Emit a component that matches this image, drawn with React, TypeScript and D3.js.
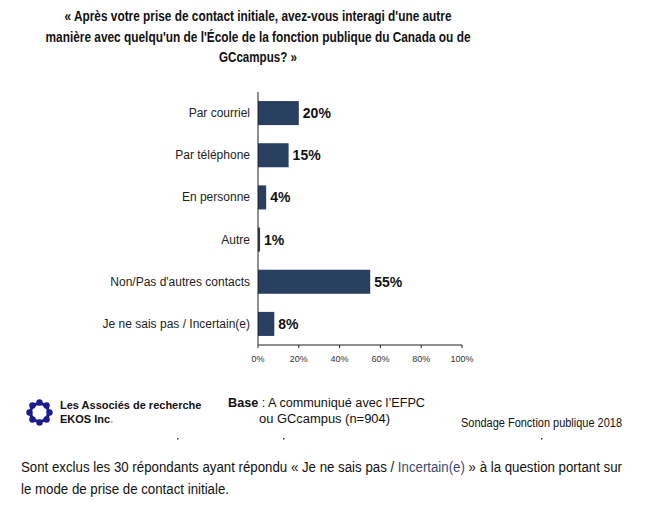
import React from 'react';
import * as d3 from 'd3';

const categories = [
  'Par courriel',
  'Par téléphone',
  'En personne',
  'Autre',
  "Non/Pas d'autres contacts",
  'Je ne sais pas / Incertain(e)',
];
const values = [20, 15, 4, 1, 55, 8];
const tickValues = [0, 20, 40, 60, 80, 100];

const titleLines = [
  "« Après votre prise de contact initiale, avez-vous interagi d'une autre",
  "manière avec quelqu'un de l'École de la fonction publique du Canada ou de",
  'GCcampus? »',
];
// measured widths of the condensed title lines in the reference
const titleWidths = [387, 425, 78];

const BAR = '#283f5f';
const SANS = '"Liberation Sans", Arial, sans-serif';

export default function App() {
  const x = d3.scaleLinear().domain([0, 100]).range([258, 462]);
  const y = d3.scaleBand<string>().domain(categories).range([92, 345]).paddingInner(0.43).paddingOuter(0.215);

  // logo petals around a ring
  const petals = d3.range(8).map(i => (i / 8) * Math.PI * 2);

  return (
    <svg width={650} height={523} style={{ position: 'absolute', left: 0, top: 0, background: '#fff' }}>
      <g fontFamily={SANS} fontWeight="bold" fontSize={15} fill="#111" textAnchor="middle">
        {titleLines.map((t, i) => (
          <text key={i} x={258} y={21 + i * 20.5} textLength={titleWidths[i]} lengthAdjust="spacingAndGlyphs">{t}</text>
        ))}
      </g>

      {/* category labels */}
      <g fontFamily={SANS} fontSize={12} fill="#222" textAnchor="end">
        {categories.map(c => (
          <text key={c} x={250} y={(y(c) ?? 0) + y.bandwidth() / 2 + 4}>{c}</text>
        ))}
      </g>

      {/* bars */}
      {categories.map((c, i) => (
        <rect key={c} x={x(0)} y={y(c)} width={x(values[i]) - x(0)} height={y.bandwidth()} fill={BAR} />
      ))}

      {/* value labels */}
      <g fontFamily={SANS} fontWeight="bold" fontSize={14} fill="#111">
        {categories.map((c, i) => (
          <text key={c} x={x(values[i]) + 4} y={(y(c) ?? 0) + y.bandwidth() / 2 + 5}>{values[i]}%</text>
        ))}
      </g>

      {/* axes */}
      <line x1={x(0)} x2={x(0)} y1={92} y2={345} stroke="#222" strokeWidth={1} />
      <line x1={x(0)} x2={x(100)} y1={345} y2={345} stroke="#222" strokeWidth={1} />
      {tickValues.map(t => (
        <g key={t}>
          <line x1={x(t)} x2={x(t)} y1={345} y2={348} stroke="#222" />
          <text x={x(t)} y={362} textAnchor="middle" fontFamily={SANS} fontSize={9} fill="#333">{t}%</text>
        </g>
      ))}

      {/* logo */}
      <g transform="translate(39.5,412.5)" fill="#1c1c8e">
        <circle r={9} fill="none" stroke="#1c1c8e" strokeWidth={3} />
        {petals.map((a, i) => (
          <circle key={i} cx={Math.cos(a) * 10} cy={Math.sin(a) * 10} r={3.2} />
        ))}
      </g>
      <text x={60} y={409} fontFamily={SANS} fontWeight="bold" fontSize={11} fill="#111">Les Associés de recherche</text>
      <text x={60} y={423} fontFamily={SANS} fontWeight="bold" fontSize={11} fill="#111">
        EKOS Inc<tspan fill="#e8a030">.</tspan>
      </text>

      <text x={228} y={407} fontFamily={SANS} fontSize={12.5} fill="#111" textLength={197} lengthAdjust="spacingAndGlyphs">
        <tspan fontWeight="bold">Base</tspan> : A communiqué avec l’EFPC
      </text>
      <text x={259} y={423} fontFamily={SANS} fontSize={12.5} fill="#111" textLength={131} lengthAdjust="spacingAndGlyphs">ou GCcampus (n=904)</text>
      <text x={622} y={427} textAnchor="end" fontFamily={SANS} fontSize={12} fill="#111" textLength={161} lengthAdjust="spacingAndGlyphs">Sondage Fonction publique 2018</text>

      {[177, 283, 541].map(d => (
        <rect key={d} x={d} y={438} width={1.5} height={1.5} fill="#333" />
      ))}

      <text x={21} y={472} fontFamily={SANS} fontSize={14} fill="#111" textLength={601} lengthAdjust="spacingAndGlyphs">
        Sont exclus les 30 répondants ayant répondu « Je ne sais pas / <tspan fill="#3b4a70">Incertain(e)</tspan>  » à la question portant sur
      </text>
      <text x={21} y={494} fontFamily={SANS} fontSize={14} fill="#111" textLength={208} lengthAdjust="spacingAndGlyphs">le mode de prise de contact initiale.</text>
    </svg>
  );
}
